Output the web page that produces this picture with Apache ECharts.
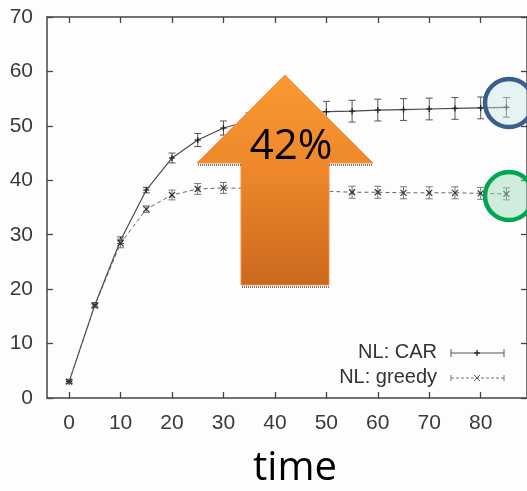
<!DOCTYPE html>
<html><head><meta charset="utf-8">
<script src="https://cdn.jsdelivr.net/npm/echarts@6/dist/echarts.min.js"></script>
<style>html,body{margin:0;padding:0;background:#fdfdfd}#c{width:527px;height:491px}</style>
</head><body><div id="c"></div>
<script>
var times = [0,5,10,15,20,25,30,35,40,45,50,55,60,65,70,75,80,85];
var carValues = [3.0,17.1,29.0,38.2,44.1,47.4,49.6,50.9,51.8,52.3,52.6,52.7,52.9,53.0,53.1,53.2,53.3,53.4];
var carErrors = [0.3,0.4,0.6,0.5,0.9,1.2,1.3,1.5,1.7,1.8,1.9,2.0,2.0,2.0,2.0,2.0,2.0,1.8];
var greedyValues = [3.0,17.0,28.4,34.7,37.3,38.4,38.6,38.5,38.3,38.2,38.0,37.8,37.8,37.7,37.7,37.7,37.6,37.5];
var greedyErrors = [0.3,0.4,0.8,0.6,0.9,1.0,1.0,1.1,1.1,1.1,1.1,1.1,1.1,1.1,1.1,1.1,1.1,1.1];
var xTicks = [0,10,20,30,40,50,60,70,80];
var yTicks = [0,10,20,30,40,50,60,70];
var seriesNames = ['NL: CAR','NL: greedy'];
var xTitle = 'time';
var arrowLabel = '42%';

function hasFont(f){
  var c = document.createElement('canvas').getContext('2d');
  var s = 'NL: greedy 0123456789';
  c.font = '40px monospace'; var a = c.measureText(s).width;
  c.font = "40px '" + f + "', monospace"; var b = c.measureText(s).width;
  return a !== b;
}
var narrow = hasFont('Liberation Sans Narrow');
var tickFont = narrow ? "'Liberation Sans Narrow',sans-serif" : "'Liberation Sans',Arial,sans-serif";
var tickSize = narrow ? 23 : 21;
var legSize = narrow ? 22 : 20;

var chart = echarts.init(document.getElementById('c'), null, {renderer:'canvas'});

function zip(a,b,c){ return a.map(function(v,i){ return c ? [v,b[i],c[i]] : [v,b[i]]; }); }

function errRender(kind, color){
  return function(params, api){
    var x = api.value(0), y = api.value(1), e = api.value(2);
    var p = api.coord([x,y]), hi = api.coord([x,y+e]), lo = api.coord([x,y-e]);
    var cw = 3.5, m = 3;
    var st = {stroke:color, lineWidth:1};
    var ch = [
      {type:'line', shape:{x1:p[0],y1:hi[1],x2:p[0],y2:lo[1]}, style:st},
      {type:'line', shape:{x1:p[0]-cw,y1:hi[1],x2:p[0]+cw,y2:hi[1]}, style:st},
      {type:'line', shape:{x1:p[0]-cw,y1:lo[1],x2:p[0]+cw,y2:lo[1]}, style:st}
    ];
    if(kind==='plus'){
      ch.push({type:'line', shape:{x1:p[0]-m,y1:p[1],x2:p[0]+m,y2:p[1]}, style:{stroke:'#222',lineWidth:1.3}});
      ch.push({type:'line', shape:{x1:p[0],y1:p[1]-m,x2:p[0],y2:p[1]+m}, style:{stroke:'#222',lineWidth:1.3}});
    } else {
      ch.push({type:'line', shape:{x1:p[0]-m,y1:p[1]-m,x2:p[0]+m,y2:p[1]+m}, style:{stroke:'#333',lineWidth:1.2}});
      ch.push({type:'line', shape:{x1:p[0]-m,y1:p[1]+m,x2:p[0]+m,y2:p[1]-m}, style:{stroke:'#333',lineWidth:1.2}});
    }
    return {type:'group', children:ch};
  };
}

var axisLineStyle = {color:'#444', width:1.5};
var tickStyle = {color:'#444', width:1.3};
var option = {
  backgroundColor:'#fdfdfd',
  animation:false,
  grid:{left:47, top:17, width:481, height:381, containLabel:false},
  xAxis:[
    {type:'value', min:-4.3, max:89, position:'bottom',
     axisLine:{show:true,onZero:false,lineStyle:axisLineStyle},
     axisTick:{show:true,inside:true,length:6,customValues:xTicks,lineStyle:tickStyle},
     axisLabel:{customValues:xTicks,margin:15,color:'#3a3a3a',fontSize:tickSize,fontFamily:tickFont},
     splitLine:{show:false}},
    {type:'value', min:-4.3, max:89, position:'top',
     axisLine:{show:true,onZero:false,lineStyle:axisLineStyle},
     axisTick:{show:true,inside:true,length:6,customValues:xTicks,lineStyle:tickStyle},
     axisLabel:{show:false}, splitLine:{show:false}}
  ],
  yAxis:[
    {type:'value', min:0, max:70, interval:10, position:'left',
     axisLine:{show:true,onZero:false,lineStyle:axisLineStyle},
     axisTick:{show:true,inside:true,length:6,customValues:yTicks,lineStyle:tickStyle},
     axisLabel:{customValues:yTicks,margin:14,color:'#3a3a3a',fontSize:tickSize,fontFamily:tickFont},
     splitLine:{show:false}},
    {type:'value', min:0, max:70, interval:10, position:'right',
     axisLine:{show:true,onZero:false,lineStyle:axisLineStyle},
     axisTick:{show:true,inside:true,length:6,customValues:yTicks,lineStyle:tickStyle},
     axisLabel:{show:false}, splitLine:{show:false}}
  ],
  series:[
    {name:seriesNames[0], type:'line', data:zip(times,carValues), symbol:'none',
     lineStyle:{color:'#4a4a4a',width:1.2,type:'solid'}, z:2},
    {name:seriesNames[1], type:'line', data:zip(times,greedyValues), symbol:'none',
     lineStyle:{color:'#666',width:1,type:[4,3]}, z:2},
    {type:'custom', data:zip(times,carValues,carErrors), renderItem:errRender('plus','#555'), z:3},
    {type:'custom', data:zip(times,greedyValues,greedyErrors), renderItem:errRender('cross','#777'), z:3}
  ],
  graphic:[
    // legend
    {type:'text', x:437, y:352, z:10, style:{text:seriesNames[0], font:legSize+"px "+tickFont, fill:'#333', align:'right', verticalAlign:'middle'}},
    {type:'text', x:437, y:377, z:10, style:{text:seriesNames[1], font:legSize+"px "+tickFont, fill:'#333', align:'right', verticalAlign:'middle'}},
    {type:'line', z:10, shape:{x1:451,y1:353,x2:504,y2:353}, style:{stroke:'#555',lineWidth:1}},
    {type:'line', z:10, shape:{x1:451,y1:349,x2:451,y2:357}, style:{stroke:'#555',lineWidth:1}},
    {type:'line', z:10, shape:{x1:504,y1:349,x2:504,y2:357}, style:{stroke:'#555',lineWidth:1}},
    {type:'line', z:10, shape:{x1:474,y1:353,x2:480,y2:353}, style:{stroke:'#222',lineWidth:1.3}},
    {type:'line', z:10, shape:{x1:477,y1:350,x2:477,y2:356}, style:{stroke:'#222',lineWidth:1.3}},
    {type:'line', z:10, shape:{x1:451,y1:378,x2:504,y2:378}, style:{stroke:'#777',lineWidth:1,lineDash:[3,2]}},
    {type:'line', z:10, shape:{x1:451,y1:375,x2:451,y2:381}, style:{stroke:'#777',lineWidth:1}},
    {type:'line', z:10, shape:{x1:504,y1:375,x2:504,y2:381}, style:{stroke:'#777',lineWidth:1}},
    {type:'line', z:10, shape:{x1:474,y1:375,x2:480,y2:381}, style:{stroke:'#555',lineWidth:1}},
    {type:'line', z:10, shape:{x1:474,y1:381,x2:480,y2:375}, style:{stroke:'#555',lineWidth:1}},
    // arrow
    {type:'polygon', z:20, shape:{points:[[285,75],[373,163],[329,163],[329,285],[241,285],[241,163],[197,163]]},
     style:{fill:new echarts.graphic.LinearGradient(0,0,0,1,[{offset:0,color:'#F99833'},{offset:0.45,color:'#EE882B'},{offset:1,color:'#CC681E'}]),
            stroke:'#F39540', lineWidth:1}},
    {type:'line', z:21, shape:{x1:198,y1:165,x2:241,y2:165}, style:{stroke:'#777',lineWidth:2,lineDash:[1,1]}},
    {type:'line', z:21, shape:{x1:329,y1:165,x2:372,y2:165}, style:{stroke:'#777',lineWidth:2,lineDash:[1,1]}},
    {type:'line', z:21, shape:{x1:242,y1:287,x2:329,y2:287}, style:{stroke:'#777',lineWidth:2,lineDash:[1,1]}},
    {type:'text', z:22, x:291, y:147, style:{text:arrowLabel, font:"42px 'Open Sans',sans-serif", fill:'#000', align:'center', verticalAlign:'middle'}},
    // circles
    {type:'circle', z:15, shape:{cx:509,cy:103,r:24}, style:{fill:'rgba(200,230,230,0.45)', stroke:'#3B5E8C', lineWidth:4.5}},
    {type:'circle', z:15, shape:{cx:509,cy:196,r:24}, style:{fill:'rgba(150,215,180,0.45)', stroke:'#00A651', lineWidth:4.5}},
    // x title
    {type:'text', z:10, x:295, y:469, style:{text:xTitle, font:"40px 'Open Sans',sans-serif", fill:'#000', align:'center', verticalAlign:'middle'}}
  ]
};
chart.setOption(option);
</script>
</body></html>
